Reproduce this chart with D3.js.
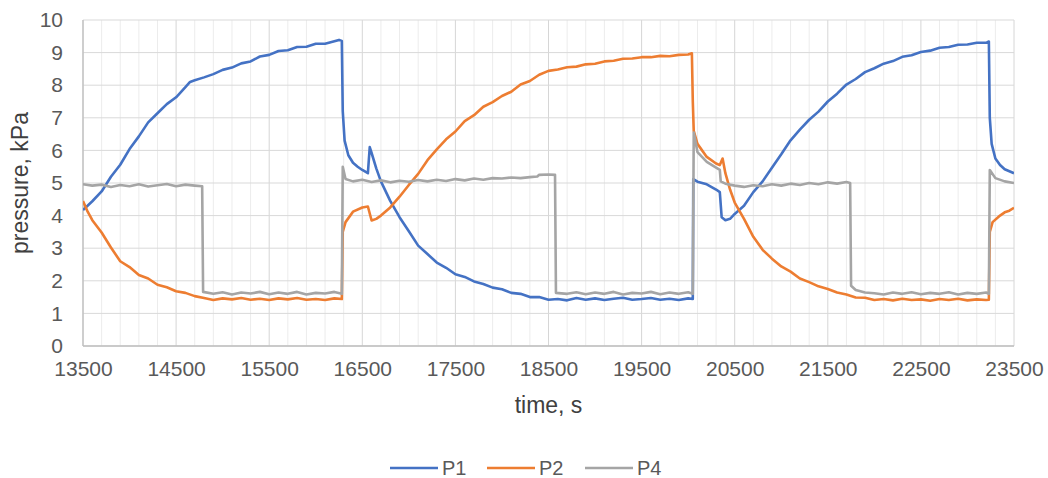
<!DOCTYPE html>
<html>
<head>
<meta charset="utf-8">
<script src="https://cdn.jsdelivr.net/npm/d3@7"></script>
<style>
  body { margin: 0; background: #fff; }
  text { font-family: "Liberation Sans", Arial, sans-serif; fill: #595959; }
</style>
</head>
<body>
<svg width="1048" height="478"></svg>
<script>
// data: [time s, pressure kPa]
var P1 = [[13500,4.17],[13600,4.44],[13700,4.74],[13800,5.19],[13900,5.56],[14000,6.04],[14100,6.43],[14200,6.86],[14300,7.14],[14400,7.42],[14500,7.63],[14600,7.94],[14650,8.1],[14700,8.15],[14800,8.24],[14900,8.34],[15000,8.47],[15100,8.54],[15200,8.67],[15300,8.73],[15400,8.88],[15500,8.93],[15600,9.05],[15700,9.07],[15800,9.17],[15900,9.18],[16000,9.27],[16100,9.27],[16200,9.35],[16250,9.39],[16280,9.36],[16290,7.2],[16310,6.3],[16350,5.85],[16400,5.62],[16450,5.5],[16500,5.4],[16560,5.3],[16580,6.1],[16600,5.92],[16650,5.45],[16700,5.05],[16800,4.45],[16900,3.95],[17000,3.52],[17100,3.08],[17200,2.82],[17300,2.56],[17400,2.4],[17500,2.2],[17600,2.12],[17700,1.98],[17800,1.9],[17900,1.79],[18000,1.74],[18100,1.63],[18200,1.6],[18300,1.5],[18400,1.5],[18500,1.42],[18600,1.44],[18700,1.4],[18800,1.47],[18900,1.42],[19000,1.46],[19100,1.41],[19200,1.45],[19300,1.48],[19400,1.42],[19500,1.44],[19600,1.47],[19700,1.42],[19800,1.45],[19900,1.41],[20000,1.46],[20050,1.44],[20055,5.12],[20100,5.04],[20200,4.96],[20300,4.8],[20340,4.72],[20360,3.95],[20400,3.86],[20450,3.9],[20500,4.05],[20600,4.3],[20700,4.72],[20800,5.05],[20900,5.47],[21000,5.88],[21100,6.31],[21200,6.64],[21300,6.94],[21400,7.19],[21500,7.5],[21600,7.74],[21700,8.02],[21800,8.19],[21900,8.4],[22000,8.52],[22100,8.66],[22200,8.74],[22300,8.87],[22400,8.92],[22500,9.02],[22600,9.06],[22700,9.15],[22800,9.17],[22900,9.24],[23000,9.25],[23100,9.3],[23200,9.3],[23230,9.34],[23240,7.0],[23260,6.2],[23300,5.75],[23350,5.55],[23400,5.42],[23500,5.3]];

var P2 = [[13500,4.45],[13550,4.12],[13600,3.86],[13700,3.48],[13800,3.02],[13900,2.6],[14000,2.42],[14100,2.18],[14200,2.07],[14300,1.88],[14400,1.8],[14500,1.68],[14600,1.63],[14700,1.53],[14800,1.47],[14900,1.41],[15000,1.46],[15100,1.43],[15200,1.47],[15300,1.42],[15400,1.45],[15500,1.41],[15600,1.46],[15700,1.43],[15800,1.47],[15900,1.42],[16000,1.44],[16100,1.41],[16200,1.46],[16280,1.44],[16290,3.5],[16320,3.8],[16400,4.12],[16500,4.25],[16560,4.28],[16600,3.85],[16650,3.9],[16700,4.0],[16800,4.25],[16900,4.58],[17000,4.94],[17100,5.28],[17200,5.7],[17300,6.03],[17400,6.34],[17500,6.58],[17600,6.9],[17700,7.08],[17800,7.34],[17900,7.48],[18000,7.67],[18100,7.8],[18200,8.02],[18300,8.13],[18400,8.32],[18500,8.44],[18600,8.48],[18700,8.55],[18800,8.57],[18900,8.64],[19000,8.66],[19100,8.73],[19200,8.75],[19300,8.81],[19400,8.82],[19500,8.86],[19600,8.86],[19700,8.9],[19800,8.89],[19900,8.93],[20000,8.94],[20040,8.98],[20050,7.5],[20060,6.6],[20100,6.2],[20200,5.8],[20300,5.6],[20340,5.55],[20370,5.75],[20400,5.3],[20450,4.8],[20500,4.4],[20600,3.9],[20700,3.35],[20800,2.95],[20900,2.68],[21000,2.44],[21100,2.28],[21200,2.07],[21300,1.96],[21400,1.83],[21500,1.75],[21600,1.64],[21700,1.58],[21800,1.49],[21900,1.48],[22000,1.41],[22100,1.44],[22200,1.4],[22300,1.45],[22400,1.41],[22500,1.43],[22600,1.39],[22700,1.44],[22800,1.41],[22900,1.45],[23000,1.4],[23100,1.43],[23200,1.41],[23230,1.42],[23240,3.5],[23270,3.8],[23350,4.0],[23400,4.1],[23450,4.15],[23500,4.24]];

var P4 = [[13500,4.96],[13600,4.92],[13700,4.95],[13800,4.88],[13900,4.94],[14000,4.9],[14100,4.96],[14200,4.89],[14300,4.93],[14400,4.97],[14500,4.9],[14600,4.95],[14700,4.92],[14780,4.9],[14790,1.66],[14900,1.6],[15000,1.65],[15100,1.58],[15200,1.64],[15300,1.61],[15400,1.66],[15500,1.59],[15600,1.64],[15700,1.6],[15800,1.66],[15900,1.58],[16000,1.63],[16100,1.61],[16200,1.66],[16280,1.6],[16290,5.5],[16320,5.12],[16400,5.05],[16500,5.1],[16600,5.03],[16700,5.08],[16800,5.02],[16900,5.07],[17000,5.04],[17100,5.09],[17200,5.05],[17300,5.1],[17400,5.06],[17500,5.12],[17600,5.08],[17700,5.14],[17800,5.1],[17900,5.15],[18000,5.14],[18100,5.17],[18200,5.15],[18300,5.18],[18380,5.2],[18400,5.25],[18500,5.26],[18570,5.25],[18580,1.63],[18700,1.6],[18800,1.65],[18900,1.59],[19000,1.64],[19100,1.6],[19200,1.66],[19300,1.58],[19400,1.63],[19500,1.61],[19600,1.66],[19700,1.59],[19800,1.64],[19900,1.6],[20000,1.65],[20050,1.6],[20060,6.55],[20100,5.95],[20200,5.65],[20300,5.47],[20340,5.4],[20350,5.05],[20400,4.98],[20500,4.92],[20600,4.88],[20700,4.93],[20800,4.9],[20900,4.96],[21000,4.92],[21100,4.98],[21200,4.94],[21300,5.0],[21400,4.96],[21500,5.02],[21600,4.98],[21700,5.03],[21740,5.0],[21750,1.85],[21800,1.72],[21900,1.64],[22000,1.62],[22100,1.58],[22200,1.64],[22300,1.6],[22400,1.65],[22500,1.59],[22600,1.63],[22700,1.6],[22800,1.65],[22900,1.58],[23000,1.63],[23100,1.6],[23200,1.64],[23230,1.6],[23240,5.4],[23300,5.15],[23400,5.05],[23500,5.0]];

var seriesNames = ["P1", "P2", "P4"];
var seriesColors = ["#4472C4", "#ED7D31", "#A5A5A5"];
var xTicks = [13500, 14500, 15500, 16500, 17500, 18500, 19500, 20500, 21500, 22500, 23500];
var yTicks = [0, 1, 2, 3, 4, 5, 6, 7, 8, 9, 10];

var svg = d3.select("svg");
var plotLeft = 83, plotRight = 1014, plotTop = 20, plotBottom = 346;

var x = d3.scaleLinear().domain([13500, 23500]).range([plotLeft, plotRight]);
var y = d3.scaleLinear().domain([0, 10]).range([plotBottom, plotTop]);

// minor vertical grid every 200 s, darker every 1000 s
var minor = d3.range(13500, 23501, 200);
svg.append("g").selectAll("line")
  .data(minor)
  .enter().append("line")
    .attr("x1", d => x(d)).attr("x2", d => x(d))
    .attr("y1", plotTop).attr("y2", plotBottom)
    .attr("stroke", d => (d - 13500) % 1000 == 0 ? "#d6d6d6" : "#ececec")
    .attr("stroke-width", 1);

// horizontal grid
svg.append("g").selectAll("line")
  .data(yTicks)
  .enter().append("line")
    .attr("x1", plotLeft).attr("x2", plotRight)
    .attr("y1", d => y(d)).attr("y2", d => y(d))
    .attr("stroke", "#d9d9d9")
    .attr("stroke-width", 1);

// axis lines
svg.append("line")
  .attr("x1", plotLeft).attr("x2", plotRight).attr("y1", plotBottom).attr("y2", plotBottom)
  .attr("stroke", "#bfbfbf").attr("stroke-width", 1.3);
svg.append("line")
  .attr("x1", plotLeft).attr("x2", plotLeft).attr("y1", plotTop).attr("y2", plotBottom)
  .attr("stroke", "#bfbfbf").attr("stroke-width", 1.3);

// axes (labels only)
var yAxis = svg.append("g")
  .attr("transform", "translate(" + plotLeft + ",0)")
  .call(d3.axisLeft(y).tickValues(yTicks).tickSize(0).tickPadding(20));
var xAxis = svg.append("g")
  .attr("transform", "translate(0," + plotBottom + ")")
  .call(d3.axisBottom(x).tickValues(xTicks).tickSize(0).tickPadding(15).tickFormat(d3.format("d")));
[yAxis, xAxis].forEach(function(a) {
  a.select(".domain").remove();
  a.selectAll("text").attr("font-size", 21).style("font-family", "'Liberation Sans', Arial, sans-serif").attr("fill", "#595959");
});

svg.append("clipPath").attr("id", "plot")
  .append("rect").attr("x", plotLeft).attr("y", plotTop - 5).attr("width", plotRight - plotLeft).attr("height", plotBottom - plotTop + 5);

var line = d3.line().x(d => x(d[0])).y(d => y(d[1]));

var all = [P1, P2, P4];
svg.append("g").attr("clip-path", "url(#plot)")
  .selectAll("path")
  .data(all)
  .enter().append("path")
    .attr("d", line)
    .attr("fill", "none")
    .attr("stroke", (d, i) => seriesColors[i])
    .attr("stroke-width", 2.6)
    .attr("stroke-linejoin", "round");

// axis titles
svg.append("text")
  .attr("transform", "translate(28," + ((plotTop + plotBottom) / 2) + ") rotate(-90)")
  .attr("text-anchor", "middle")
  .attr("font-size", 23)
  .style("fill", "#404040")
  .text("pressure, kPa");
svg.append("text")
  .attr("x", (plotLeft + plotRight) / 2).attr("y", 413)
  .attr("text-anchor", "middle")
  .attr("font-size", 23)
  .style("fill", "#404040")
  .text("time, s");

// legend
var legendX = [390, 487, 585];
var lg = svg.append("g").selectAll("g")
  .data(seriesNames)
  .enter().append("g")
    .attr("transform", (d, i) => "translate(" + legendX[i] + ",468)");
lg.append("line")
  .attr("x1", 0).attr("x2", 48).attr("y1", 0).attr("y2", 0)
  .attr("stroke", (d, i) => seriesColors[i]).attr("stroke-width", 2.6);
lg.append("text")
  .attr("x", 52).attr("y", 7)
  .attr("font-size", 20)
  .text(d => d);
</script>
</body>
</html>
